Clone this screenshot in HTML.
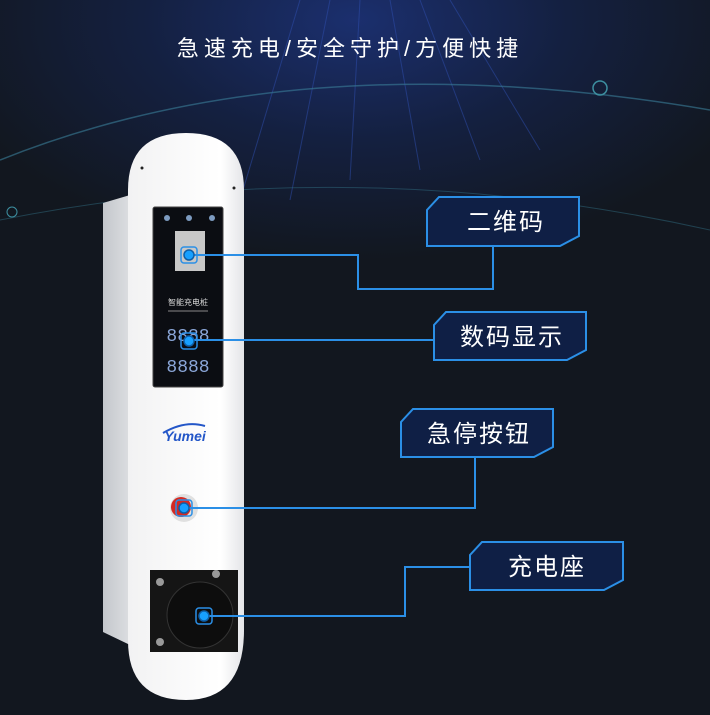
<!DOCTYPE html>
<html><head><meta charset="utf-8"><style>
body{margin:0;width:710px;height:710px;overflow:hidden;background:#12171f;font-family:"Liberation Sans","Noto Sans CJK SC",sans-serif}
</style></head><body>
<svg width="710" height="710" viewBox="0 0 710 710" xmlns="http://www.w3.org/2000/svg">
<defs>
<radialGradient id="bg" cx="0.5" cy="0.05" r="0.6">
<stop offset="0" stop-color="#1b2f6e"/><stop offset="0.5" stop-color="#142040"/><stop offset="1" stop-color="#12171f"/>
</radialGradient>
<linearGradient id="side" x1="0" x2="1"><stop offset="0" stop-color="#c4c7cc"/><stop offset="1" stop-color="#dcdee1"/></linearGradient>
<linearGradient id="front" x1="0" x2="1"><stop offset="0" stop-color="#f2f2f3"/><stop offset="0.8" stop-color="#ffffff"/><stop offset="1" stop-color="#e4e5e8"/></linearGradient>
</defs>
<rect width="710" height="710" fill="#12171f"/>
<rect width="710" height="400" fill="url(#bg)"/>
<g stroke="#2f4fb0" stroke-width="1" opacity="0.5">
<line x1="300" y1="0" x2="240" y2="200"/><line x1="330" y1="0" x2="290" y2="200"/><line x1="360" y1="0" x2="350" y2="180"/>
<line x1="390" y1="0" x2="420" y2="170"/><line x1="420" y1="0" x2="480" y2="160"/><line x1="450" y1="0" x2="540" y2="150"/>
</g>
<path d="M0 160 Q300 40 710 110" stroke="#3a7f9a" stroke-width="1.5" fill="none" opacity="0.6"/>
<path d="M0 220 Q350 150 710 230" stroke="#2f6b80" stroke-width="1" fill="none" opacity="0.5"/>
<circle cx="600" cy="88" r="7" stroke="#3d8fa0" stroke-width="1.5" fill="none"/>
<circle cx="12" cy="212" r="5" stroke="#3d8fa0" stroke-width="1" fill="none"/>
<text x="350" y="56" fill="#ffffff" font-size="22" text-anchor="middle" letter-spacing="5">急速充电/安全守护/方便快捷</text>

<!-- device -->
<path d="M103 203 L130 195 L130 645 L103 632 Z" fill="url(#side)"/>
<path d="M128 190 Q128 133 186 133 Q244 133 244 190 L244 630 Q244 700 186 700 Q128 700 128 640 Z" fill="url(#front)"/>
<circle cx="142" cy="168" r="1.5" fill="#222"/><circle cx="234" cy="188" r="1.5" fill="#222"/>
<rect x="153" y="207" width="70" height="180" rx="2" fill="#0b0d12" stroke="#444" stroke-width="1"/>
<circle cx="167" cy="218" r="3" fill="#7d9bc0"/><circle cx="189" cy="218" r="3" fill="#7d9bc0"/><circle cx="212" cy="218" r="3" fill="#7d9bc0"/>
<rect x="175" y="231" width="30" height="40" fill="#c8c8c8"/>
<text x="188" y="305" fill="#ddd" font-size="8" text-anchor="middle">智能充电桩</text>
<line x1="168" y1="311" x2="208" y2="311" stroke="#888"/>
<text x="188" y="341" fill="#8aa6d8" font-size="18" text-anchor="middle" font-family="Liberation Mono">8888</text>
<text x="188" y="372" fill="#8aa6d8" font-size="18" text-anchor="middle" font-family="Liberation Mono">8888</text>
<text x="185" y="441" fill="#2356c8" font-size="14" font-weight="bold" font-style="italic" text-anchor="middle">Yumei</text>
<path d="M163 433 Q185 420 205 426" stroke="#2356c8" stroke-width="2" fill="none"/>
<circle cx="184" cy="508" r="14" fill="#e0e0e0"/><circle cx="181" cy="507" r="10" fill="#d42a22"/>
<rect x="150" y="570" width="88" height="82" fill="#151515"/>
<circle cx="200" cy="615" r="33" fill="#0d0d0d" stroke="#333"/>
<circle cx="160" cy="582" r="4" fill="#999"/><circle cx="216" cy="574" r="4" fill="#999"/><circle cx="160" cy="642" r="4" fill="#999"/>

<!-- connectors -->
<g stroke="#2b8fe6" stroke-width="2" fill="none">
<polyline points="190,255 358,255 358,289 493,289 493,246"/>
<polyline points="190,340 434,340"/>
<polyline points="185,508 475,508 475,457"/>
<polyline points="205,616 405,616 405,567 470,567"/>
</g>
<g fill="#17a0ff" stroke="#0e5fa8" stroke-width="1.5">
<circle cx="189" cy="255" r="5"/><circle cx="189" cy="341" r="5"/><circle cx="184" cy="508" r="5"/><circle cx="204" cy="616" r="5"/>
</g>
<g fill="none" stroke="#2b8fe6" stroke-width="1.5">
<rect x="181" y="247" width="16" height="16" rx="3"/><rect x="181" y="333" width="16" height="16" rx="3"/><rect x="176" y="500" width="16" height="16" rx="3"/><rect x="196" y="608" width="16" height="16" rx="3"/>
</g>

<!-- labels -->
<g fill="#0f1f45" stroke="#2b8fe6" stroke-width="2">
<path d="M439 197 L579 197 L579 236 L560 246 L427 246 L427 210 Z"/>
<path d="M446 312 L586 312 L586 350 L567 360 L434 360 L434 325 Z"/>
<path d="M413 409 L553 409 L553 447 L534 457 L401 457 L401 422 Z"/>
<path d="M482 542 L623 542 L623 580 L604 590 L470 590 L470 555 Z"/>
</g>
<g fill="#fff" font-size="24" text-anchor="middle" letter-spacing="2">
<text x="506" y="230">二维码</text>
<text x="512" y="345">数码显示</text>
<text x="479" y="442">急停按钮</text>
<text x="547" y="575">充电座</text>
</g>
</svg>
</body></html>
